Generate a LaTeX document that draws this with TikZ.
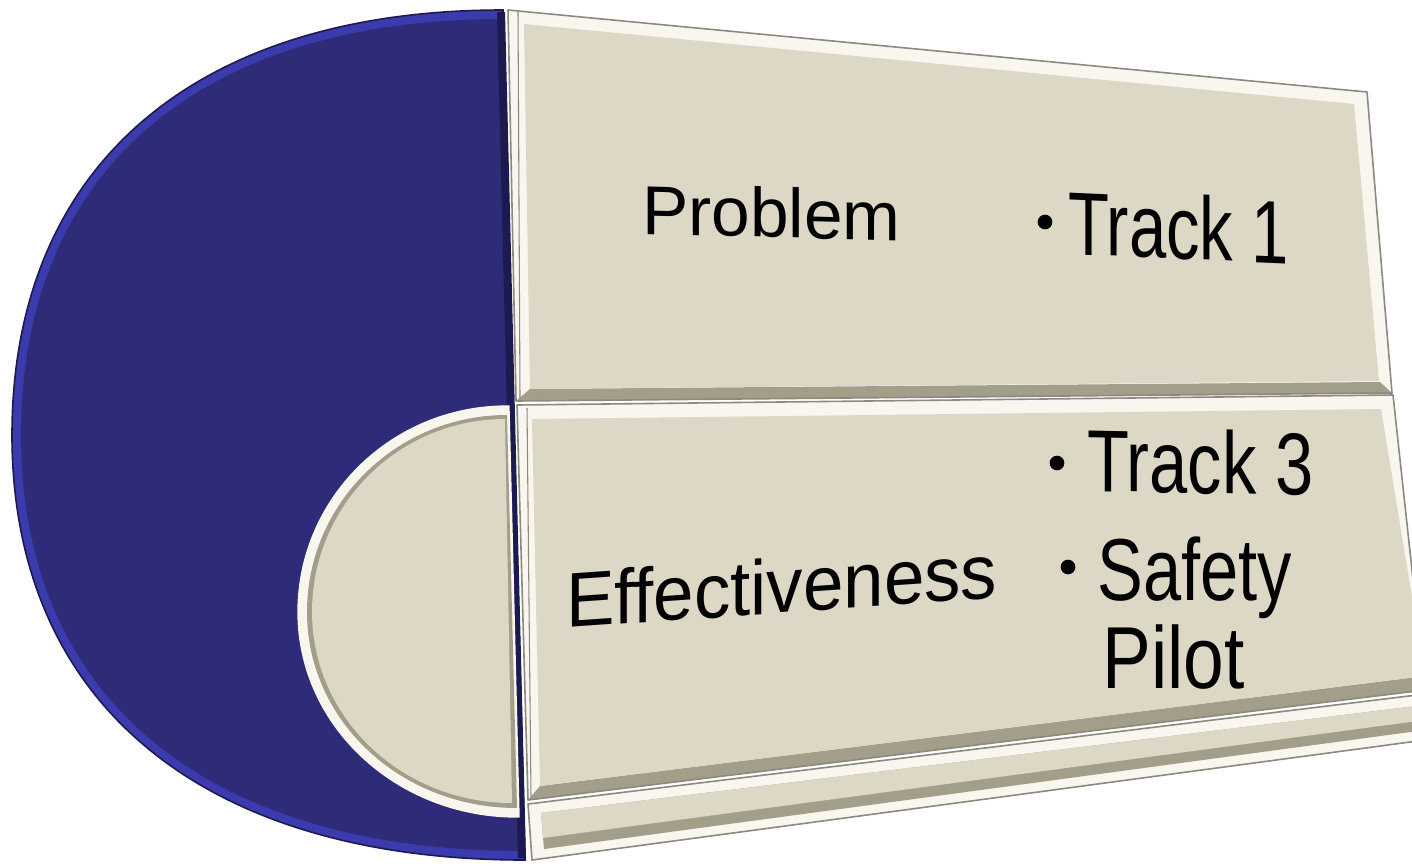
\documentclass[tikz,border=0pt]{standalone}
\usepackage{fontspec}
\setmainfont{Liberation Sans}[Ligatures=NoCommon]
\definecolor{navy}{HTML}{2E2B78}
\definecolor{navyrim}{HTML}{3C3BAE}
\definecolor{navydark}{HTML}{1C1A4E}
\definecolor{beige}{HTML}{DDD8C5}
\definecolor{beigehi}{HTML}{F8F6EE}
\definecolor{beigesh}{HTML}{A29E89}
\definecolor{edgegray}{HTML}{8C8A7E}
\begin{document}
\begin{tikzpicture}[x=0.75pt,y=-0.75pt,
  lbl/.style={inner sep=0pt, text=black},
  rimline/.style={draw=edgegray, line width=1.2pt, line join=round}]
\useasboundingbox (0,0) rectangle (1412,865);
\clip (0,0) rectangle (1412,865);
\fill[white] (0,0) rectangle (1412,865);

% ---- blue half disc ----
\fill[navyrim, draw=navydark, line width=1.2pt]
  (503,10) .. controls (194,10) and (12,167) .. (12,435)
  .. controls (12,703) and (202,860) .. (525,860) -- cycle;
\fill[navy]
  (503,19) .. controls (199,19) and (21,171) .. (21,435)
  .. controls (21,699) and (207,851) .. (524,851) -- cycle;
\fill[navydark] (497,12) -- (505,12) -- (526,858) -- (518,858) -- cycle;

% ---- inner beige half disc ----
\fill[beigehi, draw=beigehi, line width=4pt]
  (507,408) .. controls (393,408) and (300,499) .. (300,612)
  .. controls (300,725) and (398,815) .. (517,815) -- cycle;
\fill[beigesh]
  (507,415) .. controls (397,415) and (307,503) .. (307,612)
  .. controls (307,721) and (401,808) .. (517,808) -- cycle;
\fill[beige]
  (505,419) .. controls (399,419) and (312,505) .. (312,612)
  .. controls (312,718) and (402,803) .. (512,803) -- cycle;

% ---- top panel (Problem) ----
\fill[beigehi] (508,10) -- (1367,92) -- (1392,393) -- (516,401) -- cycle;
\fill[beigesh] (516,401) -- (1392,393) -- (1380,382) -- (530,389) -- cycle;
\fill[beige] (524,24) -- (1354,104) -- (1379,381) -- (530,389) -- cycle;
\draw[edgegray, line width=0.8pt] (518,12) -- (520,398);
\draw[rimline] (508,10) -- (1367,92) -- (1392,393) -- (516,401) -- cycle;

% ---- lower panel (Effectiveness) ----
\fill[beigehi] (517,405) -- (1393,395) -- (1425,690) -- (528,800) -- cycle;
\fill[beigesh] (528,800) -- (1425,690) -- (1425,676) -- (540,786) -- cycle;
\fill[beige] (532,419) -- (1381,409) -- (1425,676) -- (540,786) -- cycle;
\draw[edgegray, line width=0.8pt] (527,408) -- (531,797);
\draw[rimline] (517,405) -- (1393,395) -- (1425,690) -- (528,800) -- cycle;

% ---- bottom strip ----
\fill[beigehi] (528,804) -- (1425,694) -- (1425,740) -- (532,860) -- cycle;
\fill[beigesh] (541,813) -- (1425,705) -- (1425,730) -- (544,849) -- cycle;
\fill[beige] (541,813) -- (1425,705) -- (1425,720) -- (543,838) -- cycle;
\draw[rimline] (528,804) -- (1425,694) -- (1425,740) -- (532,860) -- cycle;

% ---- texts ----
\node[lbl, anchor=base west, yslant=-0.026, font=\fontsize{52}{60}\selectfont]
  (prob) at (642,234) {Problem};
\coordinate (b1) at (1045,222);
\fill (b1) circle[radius=5.5pt];
\node[lbl, anchor=base west, yslant=-0.045, font=\fontsize{67}{72}\selectfont]
  (t1) at (1068,254) {\scalebox{0.75}[1]{Track 1}};

\node[lbl, anchor=base west, yslant=0.07, font=\fontsize{58}{64}\selectfont]
  (eff) at (566,628) {\scalebox{0.94}[1]{Effectiveness}};
\coordinate (b3) at (1057,463);
\fill (b3) circle[radius=5.5pt];
\node[lbl, anchor=base west, yslant=-0.02, font=\fontsize{66}{72}\selectfont]
  (t3) at (1087,491) {\scalebox{0.78}[1]{Track 3}};
\coordinate (b4) at (1068,567);
\fill (b4) circle[radius=5.5pt];
\node[lbl, anchor=base west, font=\fontsize{66}{72}\selectfont]
  (saf) at (1097,600) {\scalebox{0.78}[1]{Safety}};
\node[lbl, anchor=base west, font=\fontsize{66}{72}\selectfont]
  (pil) at (1102,688) {\scalebox{0.83}[1]{Pilot}};
\end{tikzpicture}
\end{document}
